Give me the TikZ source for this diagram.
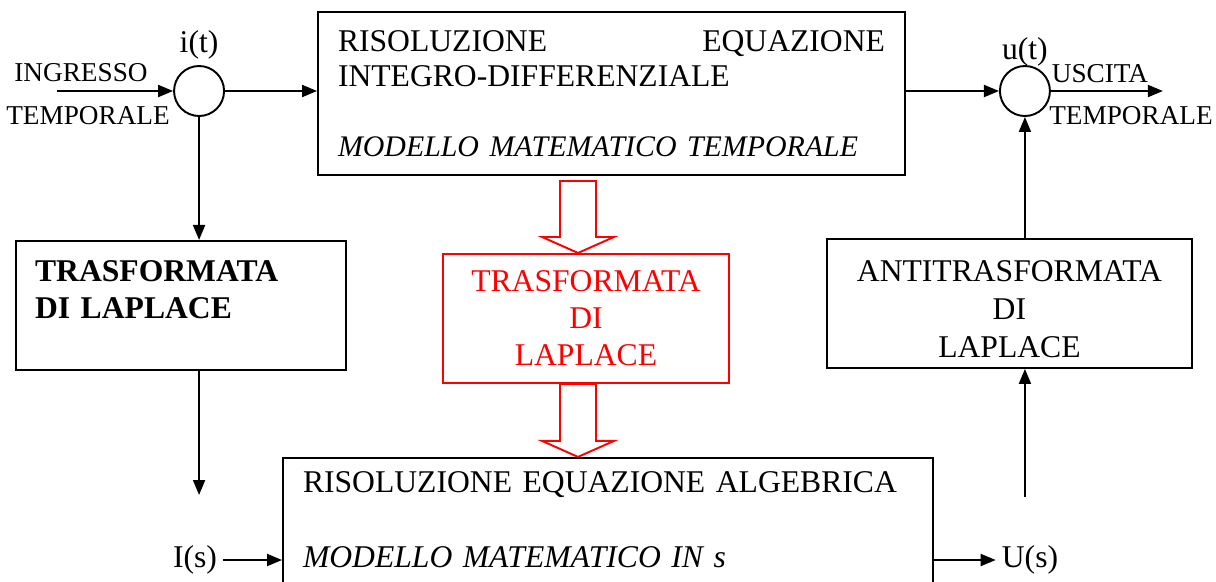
\documentclass[tikz,border=0pt]{standalone}
\usepackage{fontspec}
\setmainfont{Liberation Serif}
\usepackage{tikz}
\usetikzlibrary{arrows.meta, positioning, calc}

\begin{document}
\begin{tikzpicture}[node distance=1.2cm, >={Triangle[length=0.3cm,width=0.24cm]}]
        \tikzstyle{block} = [rectangle, draw=black, line width=1.1pt, minimum height=2.58cm, font=\fontsize{18}{21}\selectfont]
        \tikzstyle{sum} = [circle, draw=black, line width=1.1pt, minimum size=1cm, inner sep=0pt]
        \tikzstyle{arrow} = [line width=1.1pt, ->]
        \tikzstyle{lbl} = [font=\fontsize{18}{21}\selectfont]
        \tikzstyle{sidelbl} = [font=\fontsize{15.5}{18}\selectfont]
        \tikzstyle{hollow} = [draw=red, line width=1.1pt]

        \useasboundingbox (0,0) rectangle (24.32,-11.62);
        \clip (0,0) rectangle (24.32,-11.62);

        % Time domain model
        \node (tdom) [block, minimum width=11.74cm, minimum height=3.26cm, text width=10.94cm, inner xsep=0.4cm, align=left, font=\fontsize{18}{19.9}\selectfont] at (12.23,-1.87) {RISOLUZIONE\hfill EQUAZIONE\\INTEGRO-DIFFERENZIALE\\[0.7cm]\mbox{\fontsize{17}{19.9}\selectfont\textit{MODELLO MATEMATICO TEMPORALE}}};

        % Input and output junctions
        \node (sumin) [sum, left=1.84cm of tdom, yshift=0.05cm] {};
        \node (sumout) [sum, right=1.86cm of tdom, yshift=0.05cm] {};
        \node (it) [lbl, above=0cm of sumin] {i(t)};
        \node (ut) [lbl, above=-0.14cm of sumout] {u(t)};
        \coordinate [left=2.32cm of sumin] (inpt);
        \coordinate [right=2.24cm of sumout] (outp);
        \node (ingr) [sidelbl] at (1.62,-1.45) {INGRESSO};
        \node (tin) [sidelbl] at (1.76,-2.32) {TEMPORALE};
        \node (usc) [sidelbl] at (22.0,-1.48) {USCITA};
        \node (tout) [sidelbl] at (22.62,-2.32) {TEMPORALE};

        % Transforms
        \node (laplace) [block, below=2.46cm of sumin, xshift=-0.36cm, minimum width=6.6cm, text width=5.84cm, inner xsep=0.38cm, align=left, text depth=1.36cm, font=\fontsize{18}{21}\selectfont\bfseries] {TRASFORMATA\\DI LAPLACE};
        \node (redlap) [block, draw=red, text=red, below=1.54cm of tdom, xshift=-0.51cm, minimum width=5.72cm, text width=5.32cm, inner xsep=0.2cm, align=center] {TRASFORMATA\\DI\\LAPLACE};
        \node (antilap) [block, below=2.42cm of sumout, xshift=-0.31cm, minimum width=7.3cm, text width=6.9cm, inner xsep=0.2cm, align=center, text height=0.64cm, font=\fontsize{18}{21.5}\selectfont] {ANTITRASFORMATA\\DI\\LAPLACE};

        % Algebraic model in s
        \node (sdom) [block, below=1.46cm of redlap, xshift=0.44cm, minimum width=13cm, minimum height=2.68cm, text width=12.2cm, inner xsep=0.4cm, align=left, text depth=1.72cm] {RISOLUZIONE EQUAZIONE ALGEBRICA\\[0.76cm]\textit{MODELLO MATEMATICO IN s}};
        \node (Is) [lbl] at (3.9,-11.2) {I(s)};
        \node (Us) [lbl] at (20.6,-11.2) {U(s)};
        \coordinate (isend) at (sumin |- 0,-9.9);
        \coordinate (usstart) at (sumout |- 0,-9.94);

        % Arrows
        \draw [arrow] (inpt) -- (sumin);
        \draw [arrow] (sumin) -- (sumin -| tdom.west);
        \draw [arrow] (sumout -| tdom.east) -- (sumout);
        \draw [arrow] (sumout) -- (outp);
        \draw [arrow] (sumin) -- (sumin |- laplace.north);
        \draw [arrow] (sumin |- laplace.south) -- (isend);
        \draw [arrow] (Is) -- (Is -| sdom.west);
        \draw [arrow] (sdom.east |- Us) -- (Us);
        \draw [arrow] (usstart) -- (usstart |- antilap.south);
        \draw [arrow] (sumout |- antilap.north) -- (sumout);

        % Hollow red arrows
        \foreach \a/\b/\g in {tdom/redlap/0.1, redlap/sdom/0}
            \draw [hollow] let \p1 = ($(\a.south -| redlap)+(-0.16,-\g)$), \p2 = (\b.north) in
                (\x1-0.36cm,\y1) -- (\x1+0.36cm,\y1) -- (\x1+0.36cm,\y2+0.32cm) -- (\x1+0.72cm,\y2+0.32cm) -- (\x1,\y2) -- (\x1-0.72cm,\y2+0.32cm) -- (\x1-0.36cm,\y2+0.32cm) -- cycle;
    \end{tikzpicture}
\end{document}
